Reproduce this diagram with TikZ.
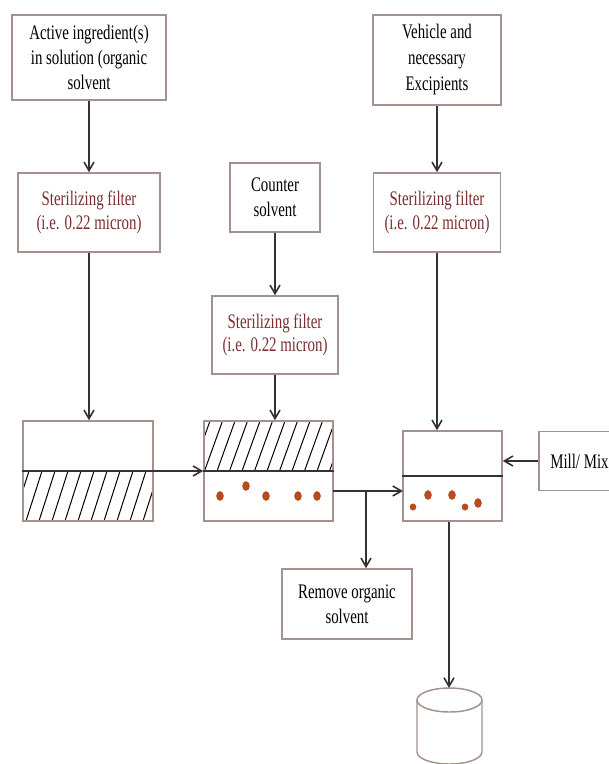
\documentclass[tikz,border=0pt]{standalone}
\usepackage{fontspec}
\setmainfont[FakeStretch=0.72]{Liberation Serif}
\usetikzlibrary{arrows.meta}
\definecolor{bordc}{HTML}{A3928D}
\definecolor{arrc}{HTML}{333333}
\definecolor{filtc}{HTML}{7A2E2E}
\definecolor{dotc}{HTML}{B84A1C}
\begin{document}
\begin{tikzpicture}[x=0.75pt,y=-0.75pt,
 box/.style={draw=bordc, line width=1.1pt, inner sep=0pt, align=center, font=\fontsize{15.5}{18.5}\selectfont, text=black},
 filt/.style={box, text=filtc, font=\fontsize{15.5}{17.5}\selectfont},
 arr/.style={draw=arrc, line width=1.2pt, -{Straight Barb[length=6.5pt,width=7.5pt]}},
 ln/.style={draw=arrc, line width=1.2pt},
 hatch/.style={draw=black, line width=0.75pt},
 pdot/.style={fill=dotc, draw=none}]
\useasboundingbox (0,0) rectangle (608,764);
% top boxes
\node[box, minimum width=154*0.75pt, minimum height=85*0.75pt] (ai) at (89,57.5) {Active ingredient(s)\\in solution (organic\\solvent};
\node[filt, minimum width=142*0.75pt, minimum height=79*0.75pt] (f1) at (89,212.5) {Sterilizing filter\\(i.e. 0.22 micron)};
\node[box, minimum width=90*0.75pt, minimum height=69*0.75pt] (cs) at (275,197.5) {Counter\\solvent};
\node[filt, minimum width=126*0.75pt, minimum height=78*0.75pt] (f2) at (275,335) {Sterilizing filter\\(i.e. 0.22 micron)};
\node[box, minimum width=128*0.75pt, minimum height=90*0.75pt, font=\fontsize{15.5}{19.5}\selectfont] (vh) at (437,60) {Vehicle and\\necessary\\Excipients};
\node[filt, minimum width=127*0.75pt, minimum height=79*0.75pt] (f3) at (437,212.5) {Sterilizing filter\\(i.e. 0.22 micron)};
% containers
\begin{scope}
\clip (23,471) rectangle (153,521);
\foreach \x in {0,13,...,170} \draw[hatch] (\x,521) -- (\x+16,471);
\end{scope}
\begin{scope}
\clip (204,421) rectangle (333,471);
\foreach \x in {192,204.5,...,345} \draw[hatch] (\x,471) -- (\x+18,421);
\end{scope}
\node[box, minimum width=130*0.75pt, minimum height=100*0.75pt] (c1) at (88,471) {};
\node[box, minimum width=129*0.75pt, minimum height=100*0.75pt] (c2) at (268.5,471) {};
\node[box, minimum width=99*0.75pt, minimum height=90*0.75pt] (c3) at (452.5,476) {};
\draw[ln] (c2.west) -- (c2.east);
\draw[ln] (c3.west) -- (c3.east);
% dots
\foreach \p in {(220,496),(246,486),(266,496),(298,496),(317,496),(428,495),(452,495),(478,503)}
  \fill[pdot] \p ellipse [x radius=3.8, y radius=4.8];
\foreach \p in {(413,507),(465,507)}
  \fill[pdot] \p ellipse [x radius=3.3, y radius=3.5];
% other boxes
\node[box, minimum width=81*0.75pt, minimum height=59*0.75pt] (mill) at (579.5,461) {Mill/ Mix};
\node[box, minimum width=130*0.75pt, minimum height=70*0.75pt] (rm) at (347,604) {Remove organic\\solvent};
% cylinder
\coordinate (cyl) at (449,688);
\draw[bordc, line width=1.1pt] (449.5,700) ellipse [x radius=32.5, y radius=12];
\draw[bordc, line width=1.1pt] (417,700) -- (417,752) arc[start angle=180, end angle=0, x radius=32.5, y radius=12] -- (482,700);
% connectors
\draw[arr] (ai.south) -- (f1.north);
\draw[arr] (f1.south) -- (f1.south |- c1.north);
\draw[arr] (cs.south) -- (cs.south |- f2.north);
\draw[arr] (f2.south) -- (f2.south |- c2.north);
\draw[arr] (vh.south) -- (vh.south |- f3.north);
\draw[arr] (f3.south) -- (f3.south |- c3.north);
\draw[arr] (c1.west) -- (c2.west);
\coordinate (c2o) at (333,491);
\coordinate (c3i) at (403,491);
\coordinate (br) at (366,491);
\draw[arr] (c2o) -- (c3i);
\draw[arr] (br) -- (br |- rm.north);
\draw[arr] (mill.west) -- (mill.west -| c3.east);
\draw[arr] (cyl |- c3.south) -- (cyl);
\end{tikzpicture}
\end{document}
